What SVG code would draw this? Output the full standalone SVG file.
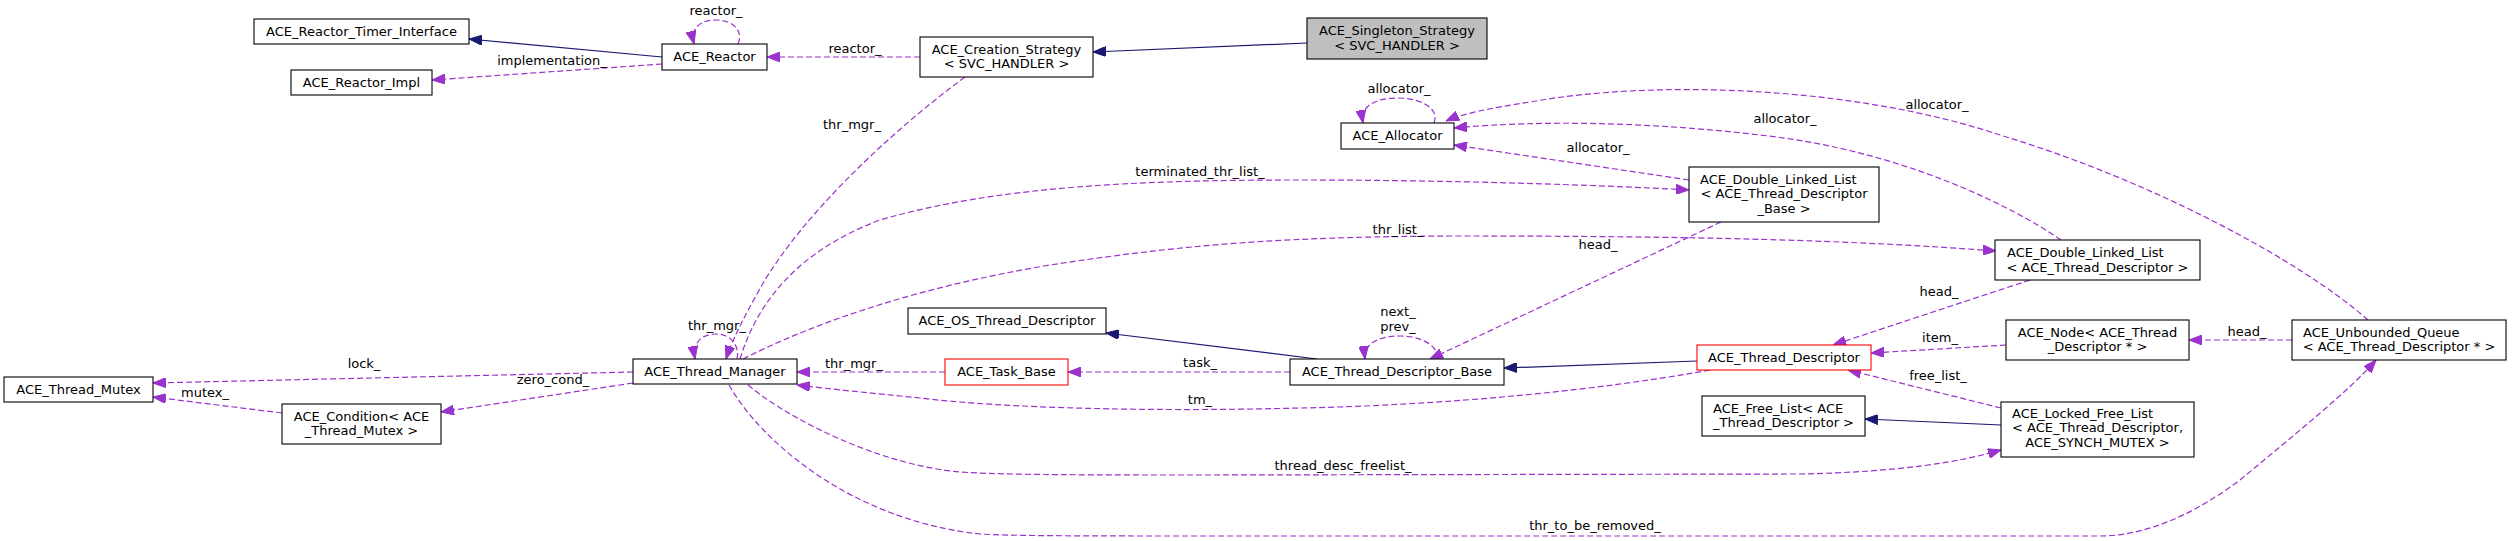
<svg xmlns="http://www.w3.org/2000/svg" width="2512" height="541" viewBox="0 0 2512 541">
<style>
text{font-family:"DejaVu Sans","Liberation Sans",sans-serif;font-size:13px;fill:#000}
.c{text-anchor:middle}
.s{text-anchor:start}
.n rect{fill:#fff;stroke:#000;stroke-width:1.1}
.n rect.red{stroke:#ff0000}
.n rect.gray{fill:#bfbfbf}
.u{fill:none;stroke:#9a32cd;stroke-width:1.2;stroke-dasharray:6,3}
.i{fill:none;stroke:#191970;stroke-width:1.2}
</style>
<defs>
<marker id="ap" viewBox="0 0 13 10" refX="13" refY="5" markerWidth="13" markerHeight="10" orient="auto" markerUnits="userSpaceOnUse"><path d="M0,0 L13,5 L0,10 z" fill="#9a32cd" stroke="#9a32cd" stroke-dasharray="none"/></marker>
<marker id="an" viewBox="0 0 13 10" refX="13" refY="5" markerWidth="13" markerHeight="10" orient="auto" markerUnits="userSpaceOnUse"><path d="M0,0 L13,5 L0,10 z" fill="#191970" stroke="#191970"/></marker>
</defs>
<rect width="2512" height="541" fill="#fff"/>

<g id="edges">
<!-- inheritance -->
<path class="i" d="M662,57 L469,39" marker-end="url(#an)"/>
<path class="i" d="M1307,43 L1093,52" marker-end="url(#an)"/>
<path class="i" d="M1317,359 L1106,333" marker-end="url(#an)"/>
<path class="i" d="M1697,361 L1504,368" marker-end="url(#an)"/>
<path class="i" d="M2001,425 L1865,419" marker-end="url(#an)"/>
<!-- usage -->
<path class="u" d="M738,44 C744,30 732,20 716,20 C700,20 690,28 694,44" marker-end="url(#ap)"/>
<text class="c" x="716" y="15">reactor_</text>
<path class="u" d="M662,64 L432,80" marker-end="url(#ap)"/>
<text class="c" x="552" y="65">implementation_</text>
<path class="u" d="M920,57 L767,57" marker-end="url(#ap)"/>
<text class="c" x="855" y="53">reactor_</text>
<path class="u" d="M965,77 C880,140 800,220 762,285 C748,310 734,335 726,359" marker-end="url(#ap)"/>
<text class="c" x="852" y="129">thr_mgr_</text>
<path class="u" d="M1434,123 C1440,108 1420,98 1398,98 C1375,98 1360,106 1363,123" marker-end="url(#ap)"/>
<text class="c" x="1399" y="93">allocator_</text>
<path class="u" d="M1689,180 L1454,145" marker-end="url(#ap)"/>
<text class="c" x="1598" y="152">allocator_</text>
<path class="u" d="M2061,240 C2010,205 1900,150 1760,135 C1650,122 1540,120 1454,128" marker-end="url(#ap)"/>
<text class="c" x="1785" y="123">allocator_</text>
<path class="u" d="M2368,320 C2300,260 2150,180 2000,135 C1850,85 1650,80 1530,102 C1490,108 1462,114 1446,121" marker-end="url(#ap)"/>
<text class="c" x="1937" y="109">allocator_</text>
<path class="u" d="M740,359 C758,300 800,250 880,220 C1000,185 1150,180 1300,180 C1450,180 1600,185 1689,190" marker-end="url(#ap)"/>
<text class="c" x="1200" y="176">terminated_thr_list_</text>
<path class="u" d="M743,359 C800,330 900,290 1050,265 C1200,242 1300,237 1450,236 C1700,236 1850,240 1996,251" marker-end="url(#ap)"/>
<text class="c" x="1398" y="234">thr_list_</text>
<path class="u" d="M737,359 C740,345 730,334 716,334 C702,334 692,342 695,359" marker-end="url(#ap)"/>
<text class="c" x="717" y="330">thr_mgr_</text>
<path class="u" d="M1721,222 L1430,359" marker-end="url(#ap)"/>
<text class="c" x="1598" y="249">head_</text>
<path class="u" d="M1437,359 C1439,345 1420,336 1400,336 C1380,336 1363,343 1365,359" marker-end="url(#ap)"/>
<text class="c" x="1398" y="316">next_</text>
<text class="c" x="1398" y="331">prev_</text>
<path class="u" d="M1290,372 L1068,372" marker-end="url(#ap)"/>
<text class="c" x="1200" y="367">task_</text>
<path class="u" d="M945,372 L797,372" marker-end="url(#ap)"/>
<text class="c" x="854" y="368">thr_mgr_</text>
<path class="u" d="M1710,370 C1600,390 1450,405 1300,408 C1150,412 1000,408 920,398 C870,393 830,389 797,385" marker-end="url(#ap)"/>
<text class="c" x="1200" y="404">tm_</text>
<path class="u" d="M633,372 L153,383" marker-end="url(#ap)"/>
<text class="c" x="364" y="368">lock_</text>
<path class="u" d="M633,383 L441,412" marker-end="url(#ap)"/>
<text class="c" x="553" y="384">zero_cond_</text>
<path class="u" d="M282,413 L153,397" marker-end="url(#ap)"/>
<text class="c" x="205" y="397">mutex_</text>
<path class="u" d="M748,385 C790,420 880,465 960,472 C1000,475 1100,475 1200,475 L1800,474 C1900,472 1960,462 2001,450" marker-end="url(#ap)"/>
<text class="c" x="1343" y="470">thread_desc_freelist_</text>
<path class="u" d="M729,385 C760,440 850,520 980,534 C1010,536 1100,536 1200,536 L2100,536 C2150,536 2200,510 2240,480 C2300,430 2350,390 2376,360" marker-end="url(#ap)"/>
<text class="c" x="1595" y="530">thr_to_be_removed_</text>
<path class="u" d="M2030,280 L1833,345" marker-end="url(#ap)"/>
<text class="c" x="1939" y="296">head_</text>
<path class="u" d="M2006,345 L1871,353" marker-end="url(#ap)"/>
<text class="c" x="1940" y="342">item_</text>
<path class="u" d="M2001,408 L1848,370" marker-end="url(#ap)"/>
<text class="c" x="1938" y="380">free_list_</text>
<path class="u" d="M2292,340 L2189,340" marker-end="url(#ap)"/>
<text class="c" x="2247" y="336">head_</text>
</g>

<g id="singleton" class="n"><rect class="gray" x="1307" y="18" width="180" height="41"/><text class="c" x="1397" y="35">ACE_Singleton_Strategy</text><text class="c" x="1397" y="50">&lt; SVC_HANDLER &gt;</text></g>
<g id="creation" class="n"><rect x="920" y="37" width="173" height="40"/><text class="c" x="1006.5" y="54">ACE_Creation_Strategy</text><text class="c" x="1006.5" y="68">&lt; SVC_HANDLER &gt;</text></g>
<g id="reactor" class="n"><rect x="662" y="44" width="105" height="26"/><text class="c" x="714.5" y="61">ACE_Reactor</text></g>
<g id="timer" class="n"><rect x="254" y="19" width="215" height="25"/><text class="c" x="361.5" y="36">ACE_Reactor_Timer_Interface</text></g>
<g id="impl" class="n"><rect x="291" y="70" width="141" height="25"/><text class="c" x="361.5" y="87">ACE_Reactor_Impl</text></g>
<g id="allocator" class="n"><rect x="1341" y="123" width="113" height="26"/><text class="c" x="1397.5" y="140">ACE_Allocator</text></g>
<g id="dll_base" class="n"><rect x="1689" y="167" width="190" height="55"/><text class="s" x="1700" y="184">ACE_Double_Linked_List</text><text class="c" x="1784" y="198">&lt; ACE_Thread_Descriptor</text><text class="c" x="1784" y="213">_Base &gt;</text></g>
<g id="dll_td" class="n"><rect x="1995" y="240" width="205" height="40"/><text class="s" x="2007" y="257">ACE_Double_Linked_List</text><text class="c" x="2097.5" y="272">&lt; ACE_Thread_Descriptor &gt;</text></g>
<g id="node" class="n"><rect x="2006" y="320" width="183" height="40"/><text class="c" x="2097.5" y="337">ACE_Node&lt; ACE_Thread</text><text class="c" x="2097.5" y="351">_Descriptor * &gt;</text></g>
<g id="queue" class="n"><rect x="2292" y="320" width="214" height="40"/><text class="s" x="2303" y="337">ACE_Unbounded_Queue</text><text class="c" x="2399" y="351">&lt; ACE_Thread_Descriptor * &gt;</text></g>
<g id="td" class="n"><rect class="red" x="1697" y="345" width="174" height="25"/><text class="c" x="1784" y="362">ACE_Thread_Descriptor</text></g>
<g id="tdb" class="n"><rect x="1290" y="359" width="214" height="26"/><text class="c" x="1397" y="376">ACE_Thread_Descriptor_Base</text></g>
<g id="os_td" class="n"><rect x="908" y="308" width="198" height="26"/><text class="c" x="1007" y="325">ACE_OS_Thread_Descriptor</text></g>
<g id="task_base" class="n"><rect class="red" x="945" y="359" width="123" height="26"/><text class="c" x="1006.5" y="376">ACE_Task_Base</text></g>
<g id="tm" class="n"><rect x="633" y="359" width="164" height="25"/><text class="c" x="715" y="376">ACE_Thread_Manager</text></g>
<g id="mutex" class="n"><rect x="4" y="377" width="149" height="25"/><text class="c" x="78.5" y="394">ACE_Thread_Mutex</text></g>
<g id="condition" class="n"><rect x="282" y="404" width="159" height="40"/><text class="c" x="361.5" y="421">ACE_Condition&lt; ACE</text><text class="c" x="361.5" y="435">_Thread_Mutex &gt;</text></g>
<g id="free_list" class="n"><rect x="1702" y="396" width="163" height="40"/><text class="s" x="1713" y="413">ACE_Free_List&lt; ACE</text><text class="c" x="1783.5" y="427">_Thread_Descriptor &gt;</text></g>
<g id="lfl" class="n"><rect x="2001" y="402" width="193" height="55"/><text class="s" x="2012" y="418">ACE_Locked_Free_List</text><text class="c" x="2097.5" y="432">&lt; ACE_Thread_Descriptor,</text><text class="c" x="2097.5" y="447">ACE_SYNCH_MUTEX &gt;</text></g>
</svg>
